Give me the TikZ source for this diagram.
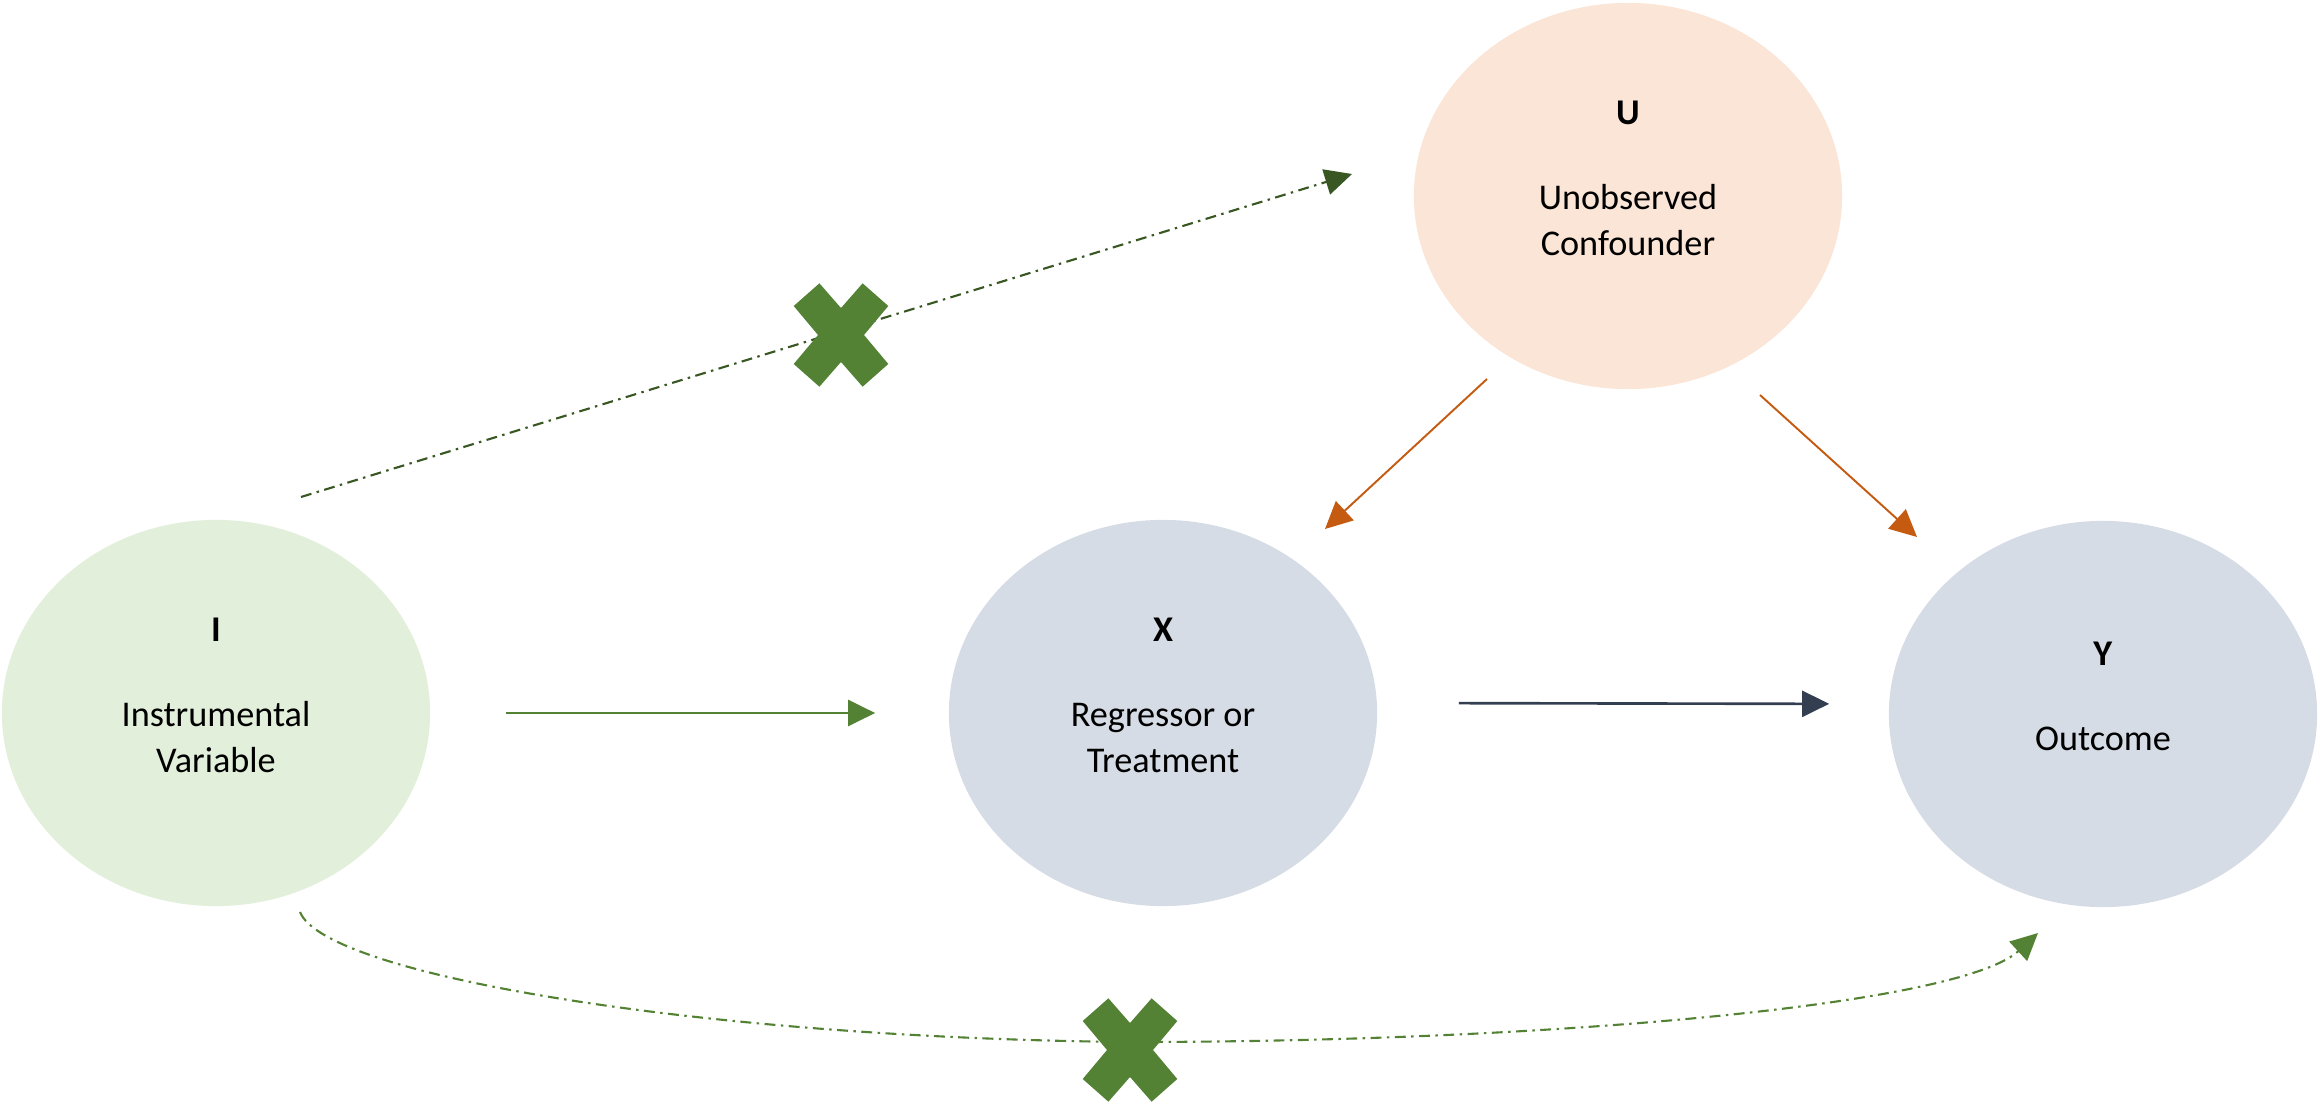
\documentclass[tikz,border=0pt]{standalone}
\usepackage{fontspec}
\setmainfont{Carlito}
\usepackage{tikz}
\usetikzlibrary{calc,arrows.meta,shapes.geometric}
\definecolor{ivfill}{HTML}{E2EFDA}
\definecolor{xyfill}{HTML}{D6DCE5}
\definecolor{ufill}{HTML}{FBE5D6}
\definecolor{leaf}{HTML}{548235}
\definecolor{moss}{HTML}{385723}
\definecolor{rust}{HTML}{C55A11}
\definecolor{slate}{HTML}{333F50}
\tikzstyle{varnode} = [ellipse, draw=none, inner sep=0pt, minimum width=4.28cm, minimum height=3.86cm]
\tikzstyle{txt} = [align=center, inner sep=0pt, font=\fontsize{10.3pt}{13.1pt}\selectfont]
\tikzstyle{line} = [draw, ->, line width=0.75pt]
\tikzstyle{slim} = [line width=0.55pt]
\tikzstyle{excl} = [line width=0.6pt, dash pattern=on 3.1pt off 1.55pt on 0.7pt off 1.55pt]
\tikzstyle{crossfill} = [fill=leaf]
\newcommand{\crossmark}[1]{%
  \fill[crossfill, shift={(#1)}] (-21.6,-51.7) -- (0,-27) -- (21.6,-51.7) -- (47.3,-29)
    -- (23,0) -- (47.3,29) -- (21.6,51.7) -- (0,27) -- (-21.6,51.7) -- (-47.3,29)
    -- (-23,0) -- (-47.3,-29) -- cycle;}

\begin{document}
\begin{tikzpicture}[ x=0.01cm, y=-0.01cm, >={Triangle[length=2.7mm,width=2.6mm]} ]

\useasboundingbox (0,0) rectangle (2323,1109);

% variables
\node (iv) [varnode,fill=ivfill] at (216,713)  {};
\node (xv) [varnode,fill=xyfill] at (1163,713) {};
\node (yv) [varnode,fill=xyfill] at (2103,714) {};
\node (uv) [varnode,fill=ufill]  at (1628,196) {};

\node (it) [txt] at ([yshift=1.8mm]iv.center) {\textbf{I}\\[11.1pt]Instrumental\\Variable};
\node (xt) [txt] at ([yshift=1.8mm]xv.center) {\textbf{X}\\[11.1pt]Regressor or\\Treatment};
\node (yt) [txt] at ([yshift=1.8mm]yv.center) {\textbf{Y}\\[11.1pt]Outcome};
\node (ut) [txt] at ([yshift=1.8mm]uv.center) {\textbf{U}\\[11.1pt]Unobserved\\Confounder};

\coordinate (dip)  at (1130,1042);
\coordinate (cut1) at (841,335);
\coordinate (cut2) at (1130,1050);

% edges
\draw[line,leaf,shorten <=7.5mm,shorten >=7.3mm] (iv) -- (xv);
\draw[line,slate,shorten <=8.1mm,shorten >=5.9mm] ([yshift=1mm]xv.east) -- ([yshift=1mm]yv.west);
\draw[line,rust,slim] ([shift={(-141,183)}]uv.center) -- ([shift={(162,-184)}]xv.center);
\draw[line,rust,slim] ([shift={(132,199)}]uv.center) -- ([shift={(-186,-177)}]yv.center);

% excluded paths
\draw[line,moss,excl] ([shift={(85,-216)}]iv.center) -- ([shift={(-276,-22)}]uv.center);
\draw[line,leaf,excl] ([shift={(84,199)}]iv.center)
  .. controls +(25,63) and +(-430,-4) .. (dip)
  .. controls +(420,0) and +(-78,72) .. ([shift={(-65,219)}]yv.center);

\crossmark{cut1}
\crossmark{cut2}

\end{tikzpicture}
\end{document}
